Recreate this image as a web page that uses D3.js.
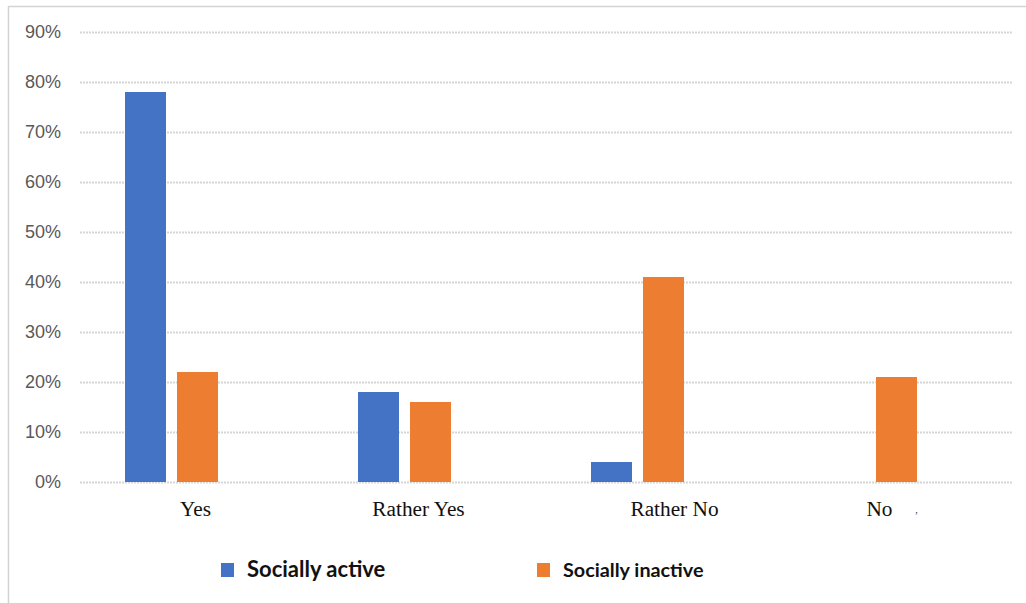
<!DOCTYPE html>
<html>
<head>
<meta charset="utf-8">
<script src="https://cdn.jsdelivr.net/npm/d3@7"></script>
<style>
  html, body { margin: 0; padding: 0; background: #fff; }
  svg { display: block; }
</style>
</head>
<body>
<div id="chart"></div>
<script>
// data ---------------------------------------------------------------
const categories = ['Yes', 'Rather Yes', 'Rather No', 'No'];
const seriesNames = ['Socially active', 'Socially inactive'];
const activeValues = [78, 18, 4, 0];
const inactiveValues = [22, 16, 41, 21];
const yTicks = [0, 10, 20, 30, 40, 50, 60, 70, 80, 90];
const colors = ['#4472c4', '#ed7d31'];

// size ---------------------------------------------------------------
const width = 1026;
const height = 603;
const margin = { top: 32, bottom: 121, left: 80, right: 14 };

const svg = d3.select('#chart').append('svg')
  .attr('width', width)
  .attr('height', height);

// outer frame (only top and left visible)
svg.append('line')
  .attr('x1', 8).attr('x2', width).attr('y1', 6.5).attr('y2', 6.5)
  .attr('stroke', '#d4d4d4').attr('stroke-width', 1.5);
svg.append('line')
  .attr('x1', 8.5).attr('x2', 8.5).attr('y1', 6).attr('y2', height)
  .attr('stroke', '#d4d4d4').attr('stroke-width', 1.5);

// scales --------------------------------------------------------------
const xScale = d3.scaleBand()
  .domain(categories)
  .range([margin.left, width - margin.right]);
// 3 slots per group (third series slot is empty in the original)
const slots = ['0', '1', '2'];
const xInner = d3.scaleBand()
  .domain(slots)
  .range([45, 190])
  .paddingInner(0.2115);
const yScale = d3.scaleLinear()
  .domain([0, 90])
  .range([height - margin.bottom, margin.top]);

// grid + y axis -------------------------------------------------------
const yAxis = svg.append('g')
  .attr('transform', 'translate(' + margin.left + ',0)')
  .call(
    d3.axisLeft(yScale)
    .tickValues(yTicks)
    .tickSize(margin.left + margin.right - width)
    .tickFormat(d => d + '%')
  );
yAxis.select('.domain').remove();
yAxis.selectAll('.tick line')
  .attr('stroke', '#d6d6d6')
  .attr('stroke-width', 2)
  .attr('stroke-dasharray', '2,1');
yAxis.selectAll('.tick text')
  .attr('x', -19)
  .attr('font-family', 'Liberation Sans, Arial, sans-serif')
  .attr('font-size', '18px')
  .attr('fill', '#595959');

// bars ------------------------------------------------------------------
const seriesData = [activeValues, inactiveValues];
seriesData.forEach((vals, s) => {
  svg.append('g').selectAll('rect')
    .data(vals)
    .enter()
    .append('rect')
    .attr('x', (d, i) => xScale(categories[i]) + xInner(String(s)))
    .attr('y', d => yScale(d))
    .attr('width', xInner.bandwidth())
    .attr('height', d => yScale(0) - yScale(d))
    .attr('fill', colors[s]);
});

// x labels ---------------------------------------------------------------
// labels in the original are not exactly centred on their groups
const labelShift = { 'Yes': -1, 'Rather Yes': -11, 'Rather No': 12, 'No': -16 };
const xLabels = svg.append('g');
xLabels.selectAll('text')
  .data(categories)
  .enter()
  .append('text')
  .attr('x', d => xScale(d) + xScale.bandwidth() / 2 + labelShift[d])
  .attr('y', 516)
  .attr('text-anchor', 'middle')
  .attr('font-family', 'Liberation Serif, Times New Roman, serif')
  .attr('font-size', '21.3px')
  .attr('fill', '#111')
  .text(d => d);
// "No" carries a stray comma in the original
const noX = xScale('No') + xScale.bandwidth() / 2;
xLabels.append('text')
  .attr('x', noX + 21)
  .attr('y', 513)
  .attr('text-anchor', 'middle')
  .attr('font-family', 'Liberation Serif, Times New Roman, serif')
  .attr('font-size', '10px')
  .attr('fill', '#333')
  .text(',');

// legend -----------------------------------------------------------------
const legendX = [221, 537];
const legend = svg.append('g').selectAll('g')
  .data(seriesNames)
  .enter()
  .append('g')
  .attr('transform', (d, i) => 'translate(' + legendX[i] + ',563)');
legend.append('rect')
  .attr('width', 13)
  .attr('height', 14)
  .attr('fill', (d, i) => colors[i]);
legend.append('text')
  .attr('x', 26)
  .attr('y', 13.5)
  .attr('font-family', 'Lato, Noto Sans, sans-serif')
  .attr('font-weight', 'bold')
  .attr('font-size', (d, i) => i === 0 ? '22px' : '19.8px')
  .attr('fill', '#111')
  .text(d => d);
</script>
</body>
</html>
